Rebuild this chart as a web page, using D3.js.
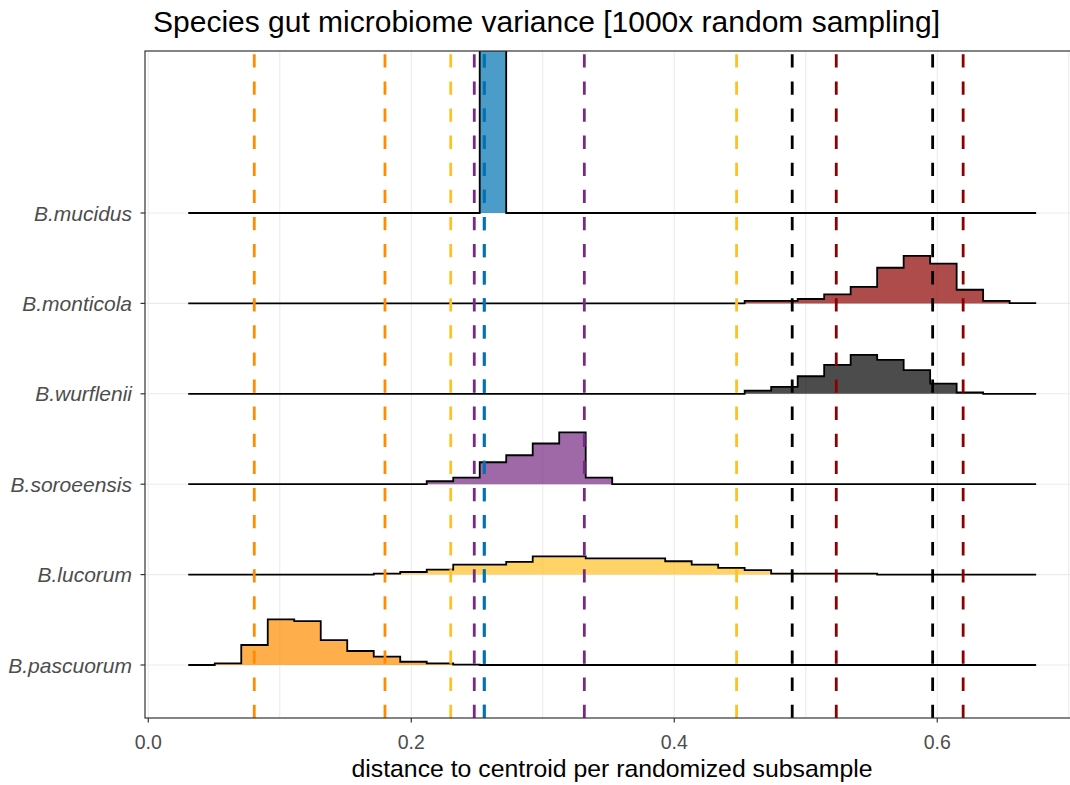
<!DOCTYPE html>
<html>
<head>
<meta charset="utf-8">
<script src="https://cdn.jsdelivr.net/npm/d3@7"></script>
<style>
  body { margin: 0; background: #fff; }
  svg text { font-family: "Liberation Sans", Arial, sans-serif; }
</style>
</head>
<body>
<svg id="chart" width="1070" height="785"></svg>
<script>
// species, bottom to top
const species = ['B.pascuorum', 'B.lucorum', 'B.soroeensis', 'B.wurflenii', 'B.monticola', 'B.mucidus'];
const colors = ['#FF8C00', '#FFC125', '#762A83', '#000000', '#8B0000', '#0072B2'];

// histogram bins (32 bins of equal width)
const binStart = 0.0304;
const binWidth = 0.02015;

// counts per bin out of 1000 subsamples
const pascuorum  = [0, 10, 123, 280, 270, 153, 86, 51, 20, 10, 2, 0, 0, 0, 0, 0, 0, 0, 0, 0, 0, 0, 0, 0, 0, 0, 0, 0, 0, 0, 0, 0];
const lucorum    = [0, 0, 0, 0, 0, 0, 0, 6, 16, 31, 61, 61, 78, 112, 112, 100, 100, 100, 82, 61, 41, 27, 6, 6, 6, 6, 0, 0, 0, 0, 0, 0];
const soroeensis = [0, 0, 0, 0, 0, 0, 0, 0, 0, 18, 41, 135, 178, 250, 319, 41, 0, 0, 0, 0, 0, 0, 0, 0, 0, 0, 0, 0, 0, 0, 0, 0];
const wurflenii  = [0, 0, 0, 0, 0, 0, 0, 0, 0, 0, 0, 0, 0, 0, 0, 0, 0, 0, 0, 0, 0, 20, 43, 108, 178, 239, 208, 145, 63, 8, 0, 0];
const monticola  = [0, 0, 0, 0, 0, 0, 0, 0, 0, 0, 0, 0, 0, 0, 0, 0, 0, 0, 0, 0, 0, 16, 16, 27, 55, 102, 219, 292, 245, 84, 16, 2];
const mucidus    = [0, 0, 0, 0, 0, 0, 0, 0, 0, 0, 0, 1000, 0, 0, 0, 0, 0, 0, 0, 0, 0, 0, 0, 0, 0, 0, 0, 0, 0, 0, 0, 0];
const counts = [pascuorum, lucorum, soroeensis, wurflenii, monticola, mucidus];

// lower / upper dashed lines per species
const lowerLine = [0.0806, 0.2300, 0.2479, 0.4897, 0.5232, 0.2555];
const upperLine = [0.1800, 0.4474, 0.3316, 0.5965, 0.6197, 0.2555];

const xTicks = [0, 0.2, 0.4, 0.6];
const xGrid = [0, 0.1, 0.2, 0.3, 0.4, 0.5, 0.6, 0.7];

const svg = d3.select('#chart');

const panel = { left: 145, right: 1079, top: 51, bottom: 718 };

const x = d3.scaleLinear()
    .domain([-0.0025, 0.7078])
    .range([panel.left, panel.right]);

const y = d3.scalePoint()
    .domain(species)
    .range([665, 213]);

const h = d3.scaleLinear()
    .domain([0, 1000])
    .range([0, 1.8 * y.step()]);

svg.append('defs').append('clipPath')
    .attr('id', 'clip')
    .append('rect')
    .attr('x', panel.left)
    .attr('y', panel.top)
    .attr('width', panel.right - panel.left)
    .attr('height', panel.bottom - panel.top);

const plot = svg.append('g').attr('clip-path', 'url(#clip)');

// grid
plot.selectAll('.vgrid')
    .data(xGrid)
    .enter()
    .append('line')
    .attr('x1', d => x(d)).attr('x2', d => x(d))
    .attr('y1', panel.top).attr('y2', panel.bottom)
    .attr('stroke', '#EBEBEB')
    .attr('stroke-width', 1.1);

plot.selectAll('.hgrid')
    .data(species)
    .enter()
    .append('line')
    .attr('x1', panel.left).attr('x2', panel.right)
    .attr('y1', d => y(d)).attr('y2', d => y(d))
    .attr('stroke', '#EBEBEB')
    .attr('stroke-width', 1.1);

// ridges, drawn top to bottom so lower ones sit in front
const edge = i => binStart + i * binWidth;

for (let s = species.length - 1; s >= 0; s--) {
    const base = y(species[s]);
    const c = counts[s];
    const pts = c.map((v, i) => [edge(i), v]);
    pts.push([edge(c.length), c[c.length - 1]]);

    const area = d3.area()
        .curve(d3.curveStepAfter)
        .x(d => x(d[0]))
        .y0(base)
        .y1(d => base - h(d[1]));

    const line = d3.line()
        .curve(d3.curveStepAfter)
        .x(d => x(d[0]))
        .y(d => base - h(d[1]));

    plot.append('path')
        .attr('d', area(pts))
        .attr('fill', colors[s])
        .attr('fill-opacity', 0.7);

    plot.append('path')
        .attr('d', line(pts))
        .attr('fill', 'none')
        .attr('stroke', '#000')
        .attr('stroke-width', 1.8);
}

// dashed lines
const vlines = [];
species.forEach((sp, i) => {
    vlines.push({ v: lowerLine[i], col: colors[i] });
    vlines.push({ v: upperLine[i], col: colors[i] });
});

plot.selectAll('.vline')
    .data(vlines)
    .enter()
    .append('line')
    .attr('x1', d => x(d.v)).attr('x2', d => x(d.v))
    .attr('y1', panel.bottom).attr('y2', panel.top)
    .attr('stroke', d => d.col)
    .attr('stroke-width', 2.8)
    .attr('stroke-dasharray', '13.3,13.8');

// panel border
svg.append('rect')
    .attr('x', panel.left)
    .attr('y', panel.top)
    .attr('width', panel.right - panel.left)
    .attr('height', panel.bottom - panel.top)
    .attr('fill', 'none')
    .attr('stroke', '#333333')
    .attr('stroke-width', 1.2);

// x axis
const xAxis = svg.append('g');
xAxis.selectAll('line')
    .data(xTicks)
    .enter()
    .append('line')
    .attr('x1', d => x(d)).attr('x2', d => x(d))
    .attr('y1', panel.bottom).attr('y2', panel.bottom + 4.5)
    .attr('stroke', '#333333')
    .attr('stroke-width', 1.2);
xAxis.selectAll('text')
    .data(xTicks)
    .enter()
    .append('text')
    .attr('x', d => x(d))
    .attr('y', 749)
    .attr('text-anchor', 'middle')
    .attr('font-size', 19.5)
    .attr('fill', '#4D4D4D')
    .text(d => d3.format('.1f')(d));

// y axis
const yAxis = svg.append('g');
yAxis.selectAll('line')
    .data(species)
    .enter()
    .append('line')
    .attr('x1', panel.left - 4.5).attr('x2', panel.left)
    .attr('y1', d => y(d)).attr('y2', d => y(d))
    .attr('stroke', '#333333')
    .attr('stroke-width', 1.2);
yAxis.selectAll('text')
    .data(species)
    .enter()
    .append('text')
    .attr('x', 132)
    .attr('y', d => y(d) + 7.5)
    .attr('text-anchor', 'end')
    .attr('font-size', 21)
    .attr('font-style', 'italic')
    .attr('fill', '#4D4D4D')
    .text(d => d);

// titles
svg.append('text')
    .attr('x', (panel.left + panel.right) / 2)
    .attr('y', 777)
    .attr('text-anchor', 'middle')
    .attr('font-size', 24.8)
    .attr('fill', '#000')
    .text('distance to centroid per randomized subsample');

svg.append('text')
    .attr('x', 153)
    .attr('y', 32)
    .attr('font-size', 30)
    .attr('fill', '#000')
    .text('Species gut microbiome variance [1000x random sampling]');
</script>
</body>
</html>
